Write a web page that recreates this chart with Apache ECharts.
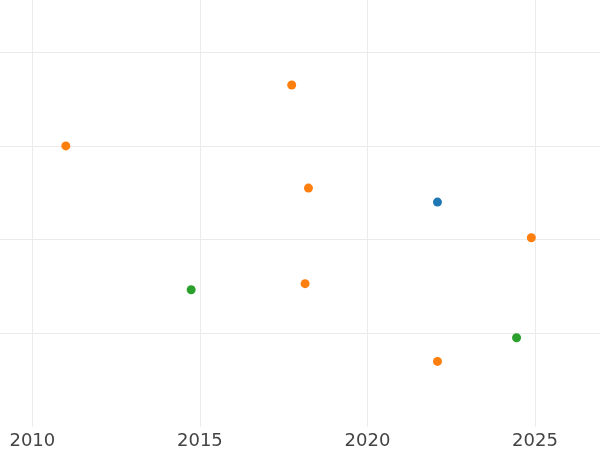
<!DOCTYPE html>
<html><head><meta charset="utf-8">
<script src="https://cdn.jsdelivr.net/npm/echarts@6/dist/echarts.min.js"></script>
<style>html,body{margin:0;padding:0;background:#fff}#c{width:600px;height:450px}</style>
</head><body><div id="c"></div>
<script>
// Series data [year, value]
const blueSeries = [[2022.09, 2.40]];
const orangeSeries = [
  [2011.0, 3.0], [2017.74, 3.65], [2018.24, 2.55], [2018.14, 1.53],
  [2024.89, 2.02], [2022.09, 0.70]
];
const greenSeries = [[2014.74, 1.465], [2024.45, 0.953]];
const xRange = [2009.035, 2026.94];
const yRange = [0, 4.557];

const chart = echarts.init(document.getElementById('c'), null, {renderer: 'canvas'});
const mk = (data, color) => ({
  type: 'scatter', data, symbolSize: 9, itemStyle: {color, opacity: 1},
  emphasis: {disabled: true}
});
chart.setOption({
  animation: false,
  grid: {left: 0, right: 0, top: 0, bottom: 23, containLabel: false},
  xAxis: {
    type: 'value', min: xRange[0], max: xRange[1], splitNumber: 4,
    minInterval: 5, maxInterval: 5,
    axisLine: {show: false}, axisTick: {show: false},
    axisLabel: {show: true, showMinLabel: false, showMaxLabel: false, color: '#444',
      fontFamily: 'DejaVu Sans', fontSize: 18, margin: 5,
      formatter: v => String(Math.round(v))},
    splitLine: {show: true, showMinLine: false, showMaxLine: false, lineStyle: {color: '#ebebeb', width: 1}}
  },
  yAxis: {
    type: 'value', min: yRange[0], max: yRange[1], interval: 1,
    axisLine: {show: false}, axisTick: {show: false}, axisLabel: {show: false},
    splitLine: {show: true, showMinLine: false, showMaxLine: false, lineStyle: {color: '#ebebeb', width: 1}}
  },
  series: [mk(blueSeries, '#1f77b4'), mk(orangeSeries, '#ff7f0e'), mk(greenSeries, '#2ca02c')]
});
</script></body></html>
